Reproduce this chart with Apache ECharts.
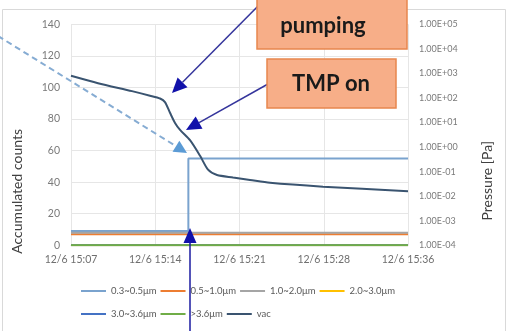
<!DOCTYPE html>
<html>
<head>
<meta charset="utf-8">
<script src="https://cdn.jsdelivr.net/npm/echarts@6/dist/echarts.min.js"></script>
<style>
  html, body { margin: 0; padding: 0; background: #fff; }
  #chart { width: 510px; height: 331px; }
</style>
</head>
<body>
<div id="chart"></div>
<script>
// Time is expressed in minutes after 15:00 on 12/6; ticks every 7.2 min (0.005 day).
const xTickLabels = ['12/6 15:07', '12/6 15:14', '12/6 15:21', '12/6 15:28', '12/6 15:36'];
const countTicks = [0, 20, 40, 60, 80, 100, 120, 140];

const seriesNames = ['0.3~0.5μm', '0.5~1.0μm', '1.0~2.0μm', '2.0~3.0μm', '3.0~3.6μm', '>3.6μm', 'vac'];
const seriesColors = ['#7AA3CE', '#ED7D31', '#A5A5A5', '#FFC000', '#4472C4', '#70AD47', '#3A5470'];

// Accumulated particle counts per size bin
const countTime = [7.2, 17.23, 36.0];
const count03_05 = [9, 55, 55];
const count05_10 = [7, 7, 7];
const count10_20 = [8, 8, 8];
const count20_30 = [0, 0, 0];
const count30_36 = [0, 0, 0];
const count36up = [0, 0, 0];

// Chamber pressure [Pa]
const vacTime = [7.20, 9.51, 12.41, 13.95, 14.81, 15.23, 15.66, 16.09, 16.52, 17.37, 18.23, 18.91, 19.68, 21.05, 22.50, 24.21, 28.74, 36.00];
const vacPa   = [800, 400, 190, 124, 95, 68, 25, 9.6, 5.0, 1.9, 0.44, 0.12, 0.073, 0.058, 0.046, 0.035, 0.0245, 0.016];

const zip = (xs, ys) => xs.map((x, i) => [x, ys[i]]);
const countSeries = [count03_05, count05_10, count10_20, count20_30, count30_36, count36up];

function sciLabel(v) {
  const e = Math.round(Math.log10(v));
  return '1.00E' + (e < 0 ? '-' : '+') + String(Math.abs(e)).padStart(2, '0');
}

function arrow(x1, y1, x2, y2, lineColor, headColor, headLen, headW, dashed) {
  const dx = x2 - x1, dy = y2 - y1;
  const len = Math.sqrt(dx * dx + dy * dy);
  const ux = dx / len, uy = dy / len;
  const bx = x2 - ux * headLen, by = y2 - uy * headLen;
  const px = -uy * headW / 2, py = ux * headW / 2;
  return [
    { type: 'line', z: 100, shape: { x1: x1, y1: y1, x2: bx, y2: by },
      style: { stroke: lineColor, lineWidth: dashed ? 2 : 1.5, lineDash: dashed ? [6, 4] : null } },
    { type: 'polygon', z: 101, shape: { points: [[x2, y2], [bx + px, by + py], [bx - px, by - py]] },
      style: { fill: headColor } }
  ];
}

const font = 'Lato, "Open Sans", sans-serif';

const chart = echarts.init(document.getElementById('chart'), null, { renderer: 'canvas' });

const series = countSeries.map((vals, i) => ({
  name: seriesNames[i],
  type: 'line',
  yAxisIndex: 0,
  step: i === 0 ? 'end' : false,
  symbol: 'none',
  data: zip(countTime, vals),
  lineStyle: { width: 2, color: seriesColors[i] },
  itemStyle: { color: seriesColors[i] }
}));
series.push({
  name: 'vac',
  type: 'line',
  yAxisIndex: 1,
  symbol: 'none',
  smooth: 0.25,
  data: zip(vacTime, vacPa),
  lineStyle: { width: 2, color: seriesColors[6] },
  itemStyle: { color: seriesColors[6] }
});

const legendBase = {
  left: 76, itemWidth: 25, itemHeight: 2, itemGap: 4, icon: 'rect',
  textStyle: { fontSize: 9.5, color: '#595959', fontFamily: font, width: 54 }
};

const graphics = [
  { type: 'rect', z: 0, shape: { x: 2.5, y: 9.5, width: 503, height: 340 },
    style: { fill: 'none', stroke: '#D9D9D9', lineWidth: 1 } },
  { type: 'text', left: 10, top: 129, rotation: Math.PI / 2, z: 50,
    style: { text: 'Accumulated counts', fontSize: 14, fill: '#404040', fontFamily: font } },
  { type: 'text', left: 480, top: 141, rotation: Math.PI / 2, z: 50,
    style: { text: 'Pressure [Pa]', fontSize: 14, fill: '#404040', fontFamily: font } },
  // callout boxes
  { type: 'rect', z: 110, shape: { x: 257, y: -40, width: 150, height: 89 },
    style: { fill: '#F7AE88', stroke: '#E8874E', lineWidth: 1.5 } },
  { type: 'text', z: 111, x: 323, y: 26,
    style: { text: 'pumping', fontSize: 22, fontWeight: 'bold', fill: '#1a1a1a', fontFamily: font,
             textAlign: 'center', textVerticalAlign: 'middle' } },
  { type: 'rect', z: 110, shape: { x: 267, y: 59, width: 129, height: 49 },
    style: { fill: '#F7AE88', stroke: '#E8874E', lineWidth: 1.5 } },
  { type: 'text', z: 111, x: 331, y: 84,
    style: { text: 'TMP on', fontSize: 22, fontWeight: 'bold', fill: '#1a1a1a', fontFamily: font,
             textAlign: 'center', textVerticalAlign: 'middle' } }
]
  .concat(arrow(266, -2, 172, 93, '#35359C', '#1111AA', 15, 14, false))
  .concat(arrow(268, 84, 186, 130, '#35359C', '#1111AA', 15, 14, false))
  .concat(arrow(-2, 36, 187, 153, '#86ACD3', '#5B9BD5', 13, 13, true))
  .concat(arrow(190, 336, 190, 228, '#1a1aA0', '#1111AA', 15, 13, false));

chart.setOption({
  animation: false,
  backgroundColor: '#fff',
  textStyle: { fontFamily: font },
  grid: { left: 71, right: 102, top: 24.3, bottom: 85.7, containLabel: false },
  legend: [
    Object.assign({ top: 281, data: seriesNames.slice(0, 4) }, legendBase),
    Object.assign({ top: 304, data: seriesNames.slice(4) }, legendBase)
  ],
  xAxis: {
    type: 'value', min: 7.2, max: 36, interval: 7.2,
    axisLine: { show: true, lineStyle: { color: '#D9D9D9' } },
    axisTick: { show: false },
    splitLine: { show: true, lineStyle: { color: '#E6E6E6' } },
    axisLabel: { color: '#6f6f6f', fontSize: 10.5, margin: 9, fontFamily: font,
                 formatter: v => xTickLabels[Math.round(v / 7.2) - 1] || '' }
  },
  yAxis: [
    {
      type: 'value', min: countTicks[0], max: countTicks[countTicks.length - 1], interval: 20,
      axisLine: { show: false }, axisTick: { show: false },
      splitLine: { show: true, lineStyle: { color: '#E6E6E6' } },
      axisLabel: { color: '#7a7a7a', fontSize: 10.5, margin: 11, fontFamily: font }
    },
    {
      type: 'log', logBase: 10, min: 1e-4, max: 1e5, splitNumber: 9,
      position: 'right',
      axisLine: { show: false }, axisTick: { show: false }, splitLine: { show: false },
      axisLabel: { color: '#7a7a7a', fontSize: 9, margin: 11, fontFamily: font, formatter: sciLabel }
    }
  ],
  series: series,
  graphic: graphics
});
</script>
</body>
</html>
